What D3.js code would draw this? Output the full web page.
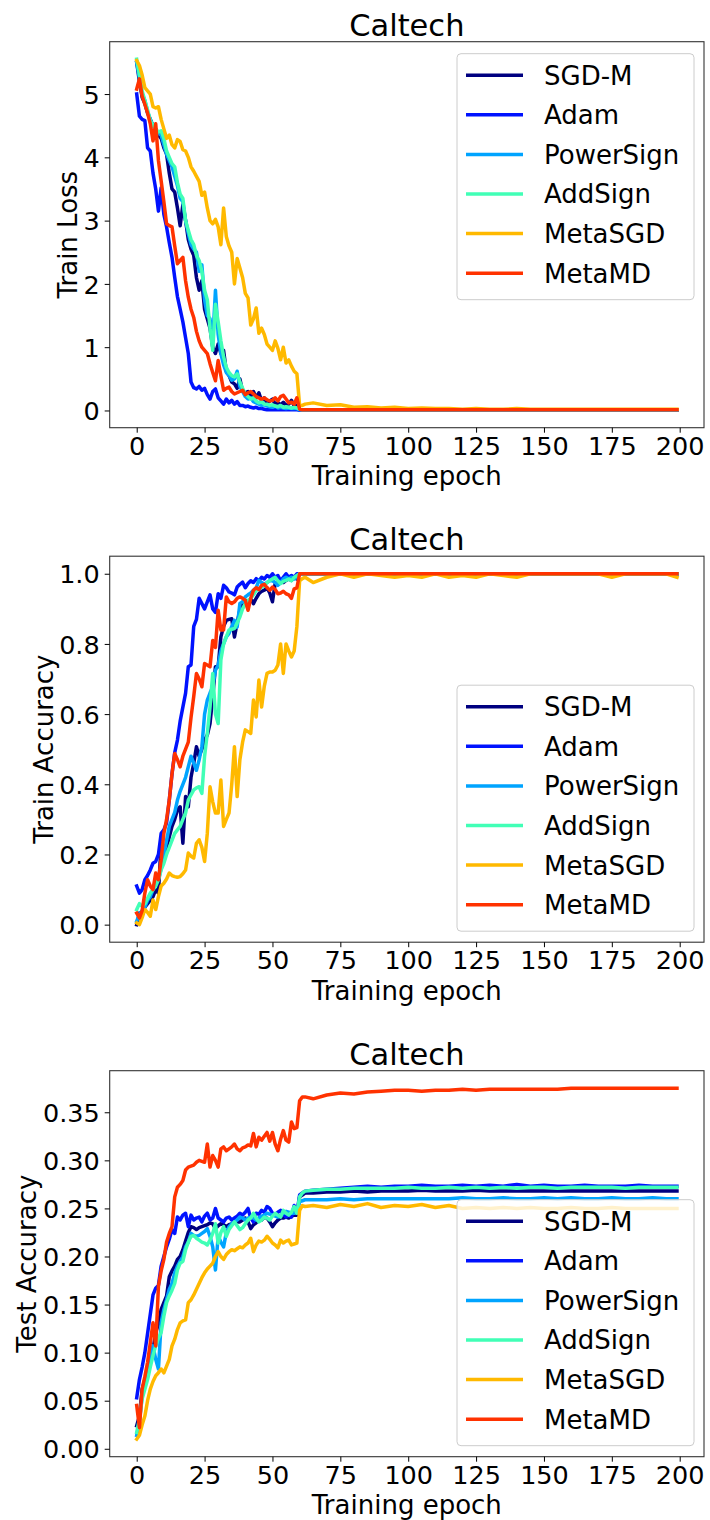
<!DOCTYPE html>
<html><head><meta charset="utf-8">
<script src="https://cdn.jsdelivr.net/npm/d3@7"></script>
<style>body{margin:0;background:#fff}svg{display:block}text{font-family:"DejaVu Sans",sans-serif;fill:#000}</style>
</head><body><svg id="c" width="710" height="1520"></svg>
<script>
const epochs = [0,1,2,3,4,5,6,7,8,9,10,11,12,13,14,15,16,17,18,19,20,21,22,23,24,25,26,27,28,29,30,31,32,33,34,35,36,37,38,39,40,41,42,43,44,45,46,47,48,49,50,51,52,53,54,55,56,57,58,59,60,61,62,
65,70,75,80,85,90,95,100,105,110,115,120,125,130,135,140,145,150,155,160,165,170,175,180,185,190,195,199];
const methods = ["SGD-M","Adam","PowerSign","AddSign","MetaSGD","MetaMD"];
const colors = ["#000080","#0012ff","#00a4ff","#41ffb6","#ffb900","#ff3200"];
const xTicks = [0,25,50,75,100,125,150,175,200];
const lossTicks = [0,1,2,3,4,5];
const accTicks = [0,0.2,0.4,0.6,0.8,1.0];
const testTicks = [0,0.05,0.10,0.15,0.20,0.25,0.30,0.35];

// ---- Train loss ----
const lossSGDM = [5.50,5.20,4.95,4.85,4.70,4.60,4.50,4.45,4.35,4.30,
4.15,4.05,3.75,3.50,3.45,3.20,2.92,3.25,3.00,2.70,
2.55,2.45,2.10,1.90,2.05,1.60,1.45,1.30,1.00,0.90,
1.05,0.90,0.95,0.62,0.55,0.45,0.42,0.35,0.50,0.30,
0.28,0.30,0.22,0.30,0.20,0.28,0.15,0.20,0.12,0.15,
0.18,0.10,0.12,0.09,0.13,0.08,0.10,0.16,0.07,0.08,
0.01,0.01,0.01,
0.01,0.01,0.01,0.01,0.01,0.01,0.01,0.01,0.01,0.01,0.01,0.01,0.01,0.01,0.01,0.01,0.01,0.01,0.01,0.01,0.01,0.01,0.01,0.01,0.01,0.01,0.01,0.01];
const lossAdam = [5.00,4.65,4.60,4.58,4.15,4.10,3.75,3.50,3.15,3.52,
3.10,2.90,2.65,2.42,2.10,1.80,1.60,1.40,1.15,0.90,
0.45,0.36,0.34,0.38,0.32,0.35,0.25,0.18,0.30,0.34,
0.20,0.15,0.10,0.18,0.12,0.16,0.10,0.14,0.08,0.08,
0.06,0.07,0.05,0.04,0.05,0.03,0.03,0.02,0.01,0.01,
0.01,0.01,0.01,0.01,0.01,0.01,0.01,0.01,0.01,0.01,
0.005,0.005,0.005,
0.005,0.005,0.005,0.005,0.005,0.005,0.005,0.005,0.005,0.005,0.005,0.005,0.005,0.005,0.005,0.005,0.005,0.005,0.005,0.005,0.005,0.005,0.005,0.005,0.005,0.005,0.005,0.005];
const lossPowerSign = [5.50,5.25,5.00,4.90,4.72,4.60,4.50,4.42,4.38,4.35,
4.20,4.05,3.95,3.85,3.70,3.55,3.35,3.30,3.00,2.80,
2.62,2.55,2.50,2.20,2.30,1.75,1.50,1.45,1.10,1.90,
1.20,0.90,0.72,0.60,0.55,0.48,0.50,0.62,0.38,0.30,
0.22,0.18,0.20,0.14,0.12,0.10,0.08,0.09,0.07,0.06,
0.05,0.07,0.04,0.05,0.04,0.03,0.04,0.03,0.03,0.03,
0.01,0.01,0.01,
0.01,0.01,0.01,0.01,0.01,0.01,0.01,0.01,0.01,0.01,0.01,0.01,0.01,0.01,0.01,0.01,0.01,0.01,0.01,0.01,0.01,0.01,0.01,0.01,0.01,0.01,0.01,0.01];
const lossAddSign = [5.55,5.30,5.05,4.90,4.75,4.58,4.50,4.45,4.40,4.42,
4.30,4.10,4.00,3.90,3.85,3.60,3.42,3.35,3.00,2.85,
2.70,2.62,2.45,2.37,2.20,1.90,1.75,1.30,0.95,1.68,
1.40,1.10,0.85,0.68,0.60,0.55,0.53,0.58,0.45,0.35,
0.26,0.22,0.18,0.20,0.15,0.12,0.14,0.10,0.10,0.08,
0.09,0.07,0.06,0.08,0.05,0.06,0.05,0.04,0.05,0.04,
0.02,0.01,0.01,
0.01,0.01,0.01,0.01,0.01,0.01,0.01,0.01,0.01,0.01,0.01,0.01,0.01,0.01,0.01,0.01,0.01,0.01,0.01,0.01,0.01,0.01,0.01,0.01,0.01,0.01,0.01,0.01];
const lossMetaSGD = [5.53,5.45,5.30,5.10,5.05,5.00,4.80,4.78,4.80,4.60,
4.45,4.30,4.35,4.20,4.15,4.28,4.25,4.12,4.10,4.00,
3.85,3.78,3.70,3.62,3.40,3.45,3.20,3.00,2.95,3.02,
2.90,2.62,3.20,2.75,2.60,2.50,2.00,2.40,2.25,2.10,
1.85,1.78,1.35,1.45,1.62,1.22,1.30,1.20,1.05,1.00,
0.95,1.10,0.98,0.80,1.00,0.75,0.80,0.70,0.62,0.58,
0.08,0.08,0.10,
0.12,0.08,0.09,0.05,0.06,0.04,0.05,0.03,0.04,0.03,0.03,0.02,0.03,0.02,0.02,0.03,0.02,0.02,0.02,0.02,0.02,0.02,0.02,0.02,0.02,0.02,0.02,0.02];
const lossMetaMD = [5.08,5.24,4.97,4.84,4.70,4.53,4.26,4.53,3.95,3.63,
3.30,2.95,2.92,2.90,2.60,2.32,2.37,2.42,2.05,1.79,
1.60,1.47,1.25,1.10,1.00,0.95,0.90,0.74,0.60,0.47,
0.79,0.55,0.32,0.35,0.37,0.30,0.26,0.28,0.30,0.32,
0.25,0.28,0.30,0.26,0.22,0.20,0.18,0.20,0.17,0.15,
0.16,0.20,0.15,0.22,0.24,0.18,0.12,0.13,0.10,0.20,
0.02,0.01,0.01,
0.01,0.01,0.01,0.01,0.01,0.01,0.01,0.01,0.01,0.01,0.01,0.01,0.01,0.01,0.01,0.01,0.01,0.01,0.01,0.01,0.01,0.01,0.01,0.01,0.01,0.01,0.01,0.01];

// ---- Train accuracy ----
const accSGDM = [0.00,0.033,0.03,0.05,0.06,0.07,0.08,0.10,0.09,0.232,
0.20,0.22,0.25,0.28,0.30,0.327,0.336,0.232,0.365,0.336,
0.42,0.46,0.507,0.48,0.50,0.526,0.54,0.573,0.65,0.735,
0.735,0.82,0.85,0.867,0.87,0.872,0.82,0.86,0.896,0.91,
0.924,0.92,0.93,0.915,0.93,0.943,0.95,0.953,0.96,0.945,
0.92,0.972,0.975,0.98,0.975,0.981,0.985,0.981,0.99,0.985,
1,1,1,
1,1,1,1,1,1,1,1,1,1,1,1,1,1,1,1,1,1,1,1,1,1,1,1,1,1,1,1];
const accAdam = [0.11,0.09,0.10,0.128,0.14,0.156,0.175,0.18,0.20,0.26,
0.27,0.29,0.355,0.43,0.49,0.526,0.58,0.62,0.66,0.735,
0.74,0.85,0.87,0.93,0.915,0.90,0.92,0.94,0.90,0.89,
0.943,0.93,0.967,0.96,0.948,0.945,0.94,0.962,0.97,0.976,
0.96,0.972,0.98,0.975,0.986,0.98,0.99,0.985,0.995,0.99,
1.0,0.99,0.995,0.98,0.99,1.0,0.99,0.995,0.99,1.0,
1,1,1,
1,1,1,1,1,1,1,1,1,1,1,1,1,1,1,1,1,1,1,1,1,1,1,1,1,1,1,1];
const accPowerSign = [0.01,0.03,0.04,0.05,0.07,0.08,0.10,0.12,0.13,0.16,
0.20,0.24,0.28,0.30,0.32,0.355,0.38,0.40,0.42,0.45,
0.48,0.46,0.44,0.47,0.507,0.60,0.64,0.66,0.678,0.725,
0.74,0.78,0.80,0.82,0.83,0.85,0.867,0.848,0.915,0.92,
0.934,0.94,0.945,0.953,0.96,0.981,0.975,0.97,0.975,0.98,
0.98,0.975,0.967,0.975,0.985,0.99,0.985,0.99,0.985,0.99,
1,1,1,
1,1,1,1,1,1,1,1,1,1,1,1,1,1,1,1,1,1,1,1,1,1,1,1,1,1,1,1];
const accAddSign = [0.043,0.06,0.052,0.06,0.075,0.09,0.10,0.11,0.128,0.156,
0.175,0.20,0.22,0.24,0.26,0.27,0.28,0.30,0.318,0.355,
0.37,0.384,0.39,0.393,0.374,0.48,0.545,0.62,0.716,0.60,
0.573,0.754,0.80,0.82,0.84,0.842,0.844,0.86,0.877,0.90,
0.915,0.924,0.93,0.94,0.953,0.955,0.962,0.965,0.975,0.981,
0.985,0.99,0.98,0.972,0.978,0.981,0.985,0.98,0.99,0.995,
1,1,1,
1,1,1,1,1,1,1,1,1,1,1,1,1,1,1,1,1,1,1,1,1,1,1,1,1,1,1,1];
const accMetaSGD = [0.005,0.0,0.02,0.043,0.035,0.024,0.07,0.043,0.08,0.11,
0.118,0.13,0.147,0.14,0.137,0.135,0.137,0.145,0.156,0.204,
0.195,0.19,0.232,0.242,0.22,0.18,0.26,0.393,0.35,0.318,
0.318,0.412,0.28,0.30,0.318,0.40,0.507,0.365,0.47,0.52,
0.555,0.55,0.545,0.64,0.592,0.697,0.62,0.68,0.716,0.72,
0.72,0.725,0.74,0.80,0.716,0.80,0.78,0.763,0.78,0.85,
0.98,0.986,0.99,
0.975,0.99,1.0,0.99,1.0,0.995,0.99,0.995,0.99,1.0,0.99,0.995,0.99,1.0,0.995,0.99,1.0,1.0,1.0,1.0,1.0,1.0,0.99,1.0,1.0,1.0,1.0,0.99];
const accMetaMD = [0.033,0.019,0.04,0.09,0.128,0.11,0.10,0.147,0.128,0.185,
0.26,0.30,0.355,0.43,0.488,0.47,0.45,0.48,0.50,0.52,
0.59,0.65,0.716,0.70,0.678,0.744,0.74,0.735,0.81,0.79,
0.896,0.84,0.84,0.934,0.92,0.915,0.92,0.93,0.934,0.93,
0.924,0.896,0.93,0.953,0.96,0.955,0.967,0.97,0.96,0.953,
0.962,0.955,0.943,0.945,0.95,0.943,0.94,0.93,0.957,0.96,
1,1,1,
1,1,1,1,1,1,1,1,1,1,1,1,1,1,1,1,1,1,1,1,1,1,1,1,1,1,1,1];

// ---- Test accuracy ----
const testSGDM = [0.024,0.034,0.062,0.072,0.083,0.095,0.103,0.121,0.13,0.145,
0.152,0.159,0.179,0.185,0.19,0.197,0.20,0.207,0.216,0.225,
0.231,0.23,0.228,0.23,0.231,0.232,0.233,0.235,0.234,0.229,
0.232,0.234,0.233,0.231,0.233,0.234,0.235,0.236,0.236,0.238,
0.24,0.236,0.229,0.233,0.235,0.24,0.238,0.241,0.24,0.236,
0.231,0.235,0.238,0.24,0.24,0.241,0.24,0.242,0.243,0.243,
0.262,0.264,0.266,
0.266,0.267,0.267,0.268,0.267,0.268,0.268,0.268,0.269,0.268,0.268,0.268,0.269,0.268,0.268,0.268,0.268,0.268,0.268,0.268,0.268,0.268,0.268,0.268,0.268,0.268,0.268,0.268];
const testAdam = [0.053,0.072,0.085,0.10,0.12,0.14,0.16,0.167,0.17,0.19,
0.20,0.21,0.218,0.228,0.224,0.241,0.238,0.243,0.245,0.231,
0.243,0.238,0.24,0.241,0.236,0.242,0.245,0.238,0.24,0.25,
0.24,0.238,0.236,0.24,0.241,0.238,0.24,0.242,0.245,0.243,
0.246,0.25,0.24,0.236,0.245,0.244,0.248,0.246,0.252,0.25,
0.245,0.243,0.246,0.248,0.244,0.241,0.243,0.241,0.253,0.245,
0.264,0.266,0.268,
0.269,0.270,0.271,0.272,0.273,0.272,0.273,0.273,0.274,0.273,0.273,0.274,0.273,0.274,0.273,0.275,0.273,0.274,0.273,0.273,0.274,0.273,0.273,0.273,0.274,0.273,0.273,0.273];
const testPowerSign = [0.014,0.028,0.055,0.07,0.083,0.095,0.107,0.093,0.083,0.131,
0.145,0.155,0.166,0.172,0.183,0.19,0.195,0.20,0.21,0.215,
0.224,0.222,0.221,0.222,0.224,0.226,0.229,0.221,0.21,0.186,
0.221,0.215,0.21,0.225,0.231,0.234,0.236,0.238,0.241,0.24,
0.238,0.24,0.241,0.24,0.238,0.24,0.242,0.243,0.245,0.244,
0.243,0.242,0.241,0.243,0.245,0.247,0.246,0.245,0.245,0.246,
0.257,0.258,0.259,
0.259,0.259,0.260,0.259,0.260,0.260,0.260,0.260,0.260,0.260,0.260,0.261,0.260,0.260,0.261,0.260,0.260,0.261,0.260,0.261,0.260,0.260,0.261,0.260,0.260,0.261,0.260,0.260];
const testAddSign = [0.017,0.031,0.052,0.062,0.072,0.085,0.097,0.107,0.115,0.121,
0.138,0.152,0.159,0.165,0.172,0.186,0.193,0.195,0.207,0.215,
0.221,0.222,0.219,0.217,0.215,0.214,0.212,0.217,0.224,0.234,
0.214,0.225,0.231,0.221,0.228,0.232,0.236,0.232,0.228,0.23,
0.234,0.238,0.24,0.245,0.24,0.236,0.238,0.241,0.24,0.238,
0.242,0.245,0.243,0.241,0.248,0.245,0.243,0.246,0.252,0.245,
0.262,0.266,0.268,
0.269,0.270,0.270,0.271,0.271,0.271,0.271,0.272,0.271,0.271,0.272,0.271,0.272,0.271,0.272,0.271,0.272,0.272,0.271,0.272,0.272,0.272,0.272,0.271,0.272,0.272,0.272,0.272];
const testMetaSGD = [0.010,0.014,0.025,0.034,0.05,0.062,0.07,0.076,0.079,0.083,
0.079,0.086,0.093,0.107,0.114,0.124,0.131,0.133,0.134,0.152,
0.155,0.16,0.166,0.172,0.178,0.183,0.187,0.19,0.193,0.20,
0.205,0.20,0.197,0.202,0.205,0.207,0.206,0.208,0.21,0.209,
0.212,0.214,0.219,0.205,0.212,0.216,0.215,0.217,0.221,0.218,
0.214,0.212,0.209,0.217,0.214,0.216,0.217,0.212,0.213,0.214,
0.248,0.253,0.252,
0.253,0.251,0.254,0.252,0.255,0.251,0.253,0.252,0.254,0.251,0.253,0.250,0.251,0.250,0.251,0.250,0.251,0.250,0.250,0.251,0.250,0.250,0.251,0.250,0.250,0.250,0.250,0.250];
const testMetaMD = [0.045,0.022,0.062,0.075,0.09,0.11,0.131,0.107,0.169,0.185,
0.197,0.215,0.224,0.231,0.262,0.272,0.275,0.279,0.29,0.293,
0.294,0.295,0.298,0.30,0.299,0.298,0.317,0.293,0.305,0.30,
0.293,0.312,0.314,0.31,0.312,0.314,0.317,0.312,0.31,0.313,
0.314,0.316,0.315,0.328,0.314,0.324,0.321,0.325,0.329,0.32,
0.329,0.317,0.31,0.322,0.331,0.321,0.319,0.34,0.333,0.334,
0.362,0.366,0.366,
0.364,0.368,0.370,0.369,0.371,0.372,0.373,0.373,0.372,0.373,0.373,0.374,0.373,0.374,0.374,0.374,0.374,0.374,0.374,0.375,0.375,0.375,0.375,0.375,0.375,0.375,0.375,0.375];

const panels = [
  {title:"Caltech", ylabel:"Train Loss", series:[lossSGDM,lossAdam,lossPowerSign,lossAddSign,lossMetaSGD,lossMetaMD], ticks:lossTicks, fmt:d3.format("d"), legend:"upper"},
  {title:"Caltech", ylabel:"Train Accuracy", series:[accSGDM,accAdam,accPowerSign,accAddSign,accMetaSGD,accMetaMD], ticks:accTicks, fmt:d3.format(".1f"), legend:"lower"},
  {title:"Caltech", ylabel:"Test Accuracy", series:[testSGDM,testAdam,testPowerSign,testAddSign,testMetaSGD,testMetaMD], ticks:testTicks, fmt:d3.format(".2f"), legend:"lower"}
];

const svg = d3.select("#c");
const L = 109.7, R = 704, H = 386, TOP0 = 41.7, STEP = 514.5;
const TICK = 25.5, LAB = 26, TIT = 30.5, LEG = 26;

const xExt = d3.extent(epochs), xPad = (xExt[1]-xExt[0])*0.05;
const x = d3.scaleLinear().domain([xExt[0]-xPad, xExt[1]+xPad]).range([L, R]);

panels.forEach((p, pi) => {
  const top = TOP0 + pi*STEP, bot = top + H;
  const all = p.series.flat();
  const yExt = d3.extent(all), yPad = (yExt[1]-yExt[0])*0.05;
  const y = d3.scaleLinear().domain([yExt[0]-yPad, yExt[1]+yPad]).range([bot, top]);
  const g = svg.append("g");

  // lines
  const line = d3.line().x((d,i)=>x(epochs[i])).y(d=>y(d));
  p.series.forEach((s, si) => {
    g.append("path").attr("d", line(s)).attr("fill","none")
      .attr("stroke", colors[si]).attr("stroke-width", 3.5)
      .attr("stroke-linejoin","round").attr("stroke-linecap","square");
  });

  // frame
  g.append("rect").attr("x",L).attr("y",top).attr("width",R-L).attr("height",H)
    .attr("fill","none").attr("stroke","#333").attr("stroke-width",1.1);

  // axes
  const ax = g.append("g").attr("transform",`translate(0,${bot})`)
    .call(d3.axisBottom(x).tickValues(xTicks).tickSize(5).tickPadding(4).tickFormat(d3.format("d")));
  ax.select(".domain").remove();
  ax.selectAll(".tick line").attr("stroke","#000").attr("stroke-width",1);
  ax.selectAll(".tick text").attr("font-size",TICK).attr("font-family","DejaVu Sans").attr("dy",null).attr("y",null)
    .attr("transform",null).each(function(){ d3.select(this).attr("y", 27); });

  const ay = g.append("g").attr("transform",`translate(${L},0)`)
    .call(d3.axisLeft(y).tickValues(p.ticks).tickSize(5).tickPadding(5).tickFormat(p.fmt));
  ay.select(".domain").remove();
  ay.selectAll(".tick line").attr("stroke","#000").attr("stroke-width",1);
  ay.selectAll(".tick text").attr("font-size",TICK).attr("font-family","DejaVu Sans").attr("dy","0.36em");

  let minX = Infinity;
  ay.selectAll(".tick text").each(function(){ const b=this.getBBox(); minX=Math.min(minX, L + b.x); });

  // x label
  g.append("text").attr("x",(L+R)/2).attr("y",bot+57.5).attr("text-anchor","middle")
    .attr("font-size",LAB).text("Training epoch");
  // y label
  g.append("text").attr("transform",`translate(${minX-6.5},${(top+bot)/2}) rotate(-90)`)
    .attr("text-anchor","middle").attr("font-size",LAB).text(p.ylabel);
  // title
  g.append("text").attr("x",(L+R)/2).attr("y",top-6).attr("text-anchor","middle")
    .attr("font-size",TIT).text(p.title);

  // legend
  const lw = 237, lh = 246, lx = R - 10 - lw;
  const ly = p.legend === "upper" ? top + 12 : bot - 11 - lh;
  const lg = g.append("g").attr("transform",`translate(${lx},${ly})`);
  lg.append("rect").attr("width",lw).attr("height",lh).attr("rx",4)
    .attr("fill","#fff").attr("fill-opacity",0.8).attr("stroke","#cccccc").attr("stroke-width",1);
  methods.forEach((m, mi) => {
    const ry = 21.5 + mi*39.6;
    lg.append("line").attr("x1",9).attr("x2",66).attr("y1",ry).attr("y2",ry)
      .attr("stroke",colors[mi]).attr("stroke-width",3.5);
    lg.append("text").attr("x",87).attr("y",ry+9.5).attr("font-size",LEG).text(m);
  });
});
</script>
</body></html>
